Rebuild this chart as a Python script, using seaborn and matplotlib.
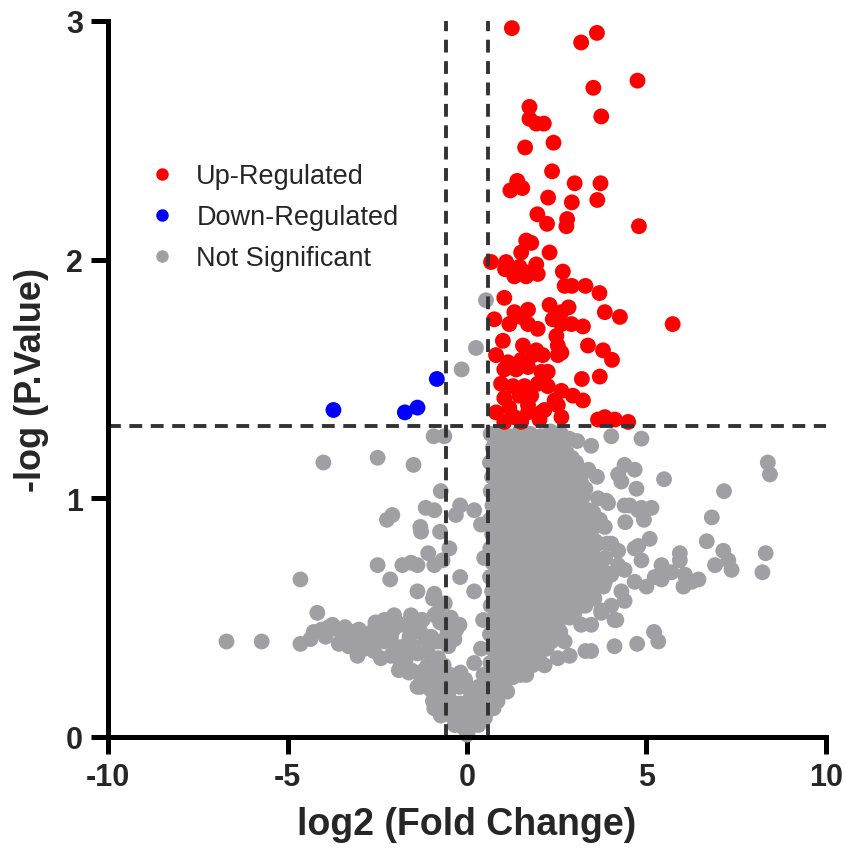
import matplotlib
matplotlib.use("Agg")
import matplotlib.pyplot as plt
from matplotlib.lines import Line2D
import seaborn as sns
import pandas as pd

# ---------------- data ----------------
up_x = [1.25, 3.62, 3.18, 4.75, 3.52, 1.74, 3.74, 1.74, 1.93, 2.14, 1.62, 2.41, 2.37,
        1.40, 1.21, 1.54, 3.00, 3.72, 2.26, 2.92, 3.63,
        1.96, 2.23, 2.79, 2.77, 4.79, 1.65, 1.79, 1.51, 2.30, 0.67, 1.09, 1.06,
        1.46, 1.93, 1.97, 1.65, 1.32, 1.79, 2.67, 2.72, 2.92, 3.30, 3.69, 1.04,
        2.30, 2.63, 2.83, 1.70, 1.32, 1.51, 0.76, 3.84, 4.26, 5.73,
        1.18, 1.70, 1.97, 2.39, 2.63, 2.91, 3.23, 1.00, 1.56, 1.93, 2.49, 2.53, 2.63,
        3.37, 3.79, 4.04, 0.81, 1.14, 1.51, 1.84, 2.11, 2.53,
        1.04, 1.37, 1.70, 2.07, 2.25, 3.20, 3.70,
        0.95, 1.28, 1.60, 1.97, 2.25, 2.63, 1.04, 1.46, 1.79, 2.44, 2.95, 3.23,
        1.18, 1.70, 2.16, 2.53, 0.81, 1.32, 1.70, 2.07, 2.63,
        3.65, 3.84, 4.12, 4.49, 1.04, 1.51, 2.02]
up_y = [2.97, 2.95, 2.91, 2.75, 2.72, 2.64, 2.60, 2.59, 2.57, 2.57, 2.47, 2.49, 2.37,
        2.33, 2.29, 2.30, 2.32, 2.32, 2.26, 2.24, 2.25,
        2.19, 2.15, 2.17, 2.14, 2.14, 2.08, 2.07, 2.03, 2.03, 1.99, 1.99, 1.96,
        1.97, 1.98, 1.94, 1.93, 1.93, 1.95, 1.95, 1.89, 1.89, 1.89, 1.86, 1.84,
        1.81, 1.78, 1.80, 1.79, 1.78, 1.76, 1.75, 1.78, 1.76, 1.73,
        1.73, 1.73, 1.71, 1.75, 1.73, 1.73, 1.72, 1.66, 1.64, 1.62, 1.68, 1.64, 1.61,
        1.64, 1.62, 1.58, 1.60, 1.57, 1.58, 1.60, 1.60, 1.60,
        1.54, 1.54, 1.55, 1.53, 1.53, 1.50, 1.51,
        1.48, 1.47, 1.47, 1.48, 1.47, 1.45, 1.42, 1.43, 1.43, 1.41, 1.43, 1.41,
        1.38, 1.39, 1.37, 1.39, 1.36, 1.34, 1.36, 1.36, 1.34,
        1.33, 1.34, 1.33, 1.32, 1.32, 1.32, 1.33]

down_x = [-0.84, -3.72, -1.73, -1.38]
down_y = [1.50, 1.37, 1.36, 1.38]

# sparse grey points (outliers around the cloud)
ns_outer_x = [-4.00, -2.49, -1.49, -0.93, -0.63, -0.73, -1.15, -0.91, -0.19, -0.31,
              -2.08, -2.23, -1.30, -1.28, -0.75, -0.49, -1.08, -2.49, -1.80, -1.56,
              -1.38, -0.91, -0.68, -0.19, -2.14, -4.64, -1.38, -4.17, -0.82, -6.70,
              -5.72, -4.64, 0.53, 0.25, -0.15, 0.20, 0.39, 0.48,
              8.38, 8.44, 7.16, 5.49, 6.82, 6.68, 7.14, 6.91, 7.37, 7.28, 8.32, 8.23,
              5.93, 6.26, 6.03, 5.21, 5.33, 4.74, 4.11, 3.30,
              4.86, 4.02, 3.46, 3.07, 4.39, 4.67, 4.21, 4.30, 4.72, 3.65, 3.93, 4.39,
              4.86, 5.14, 4.93, 4.41, 5.09, 4.77, 5.61, 5.42, 5.23, 5.00, 4.39, 4.16,
              3.74, 3.18, 2.86, 2.53, 2.16, 1.65,
              4.53, 4.77, 3.88, 3.70, 3.84, 5.93, 4.86, 5.70, 6.07, 6.45, 5.42, 4.67,
              4.39, 4.21, 4.02, 3.84, 4.30, 4.02, 3.74, 4.11, 3.65, 4.02, 4.21, 4.67,
              3.46, 3.46]
ns_outer_y = [1.15, 1.17, 1.14, 1.26, 1.26, 1.03, 0.96, 0.95, 0.97, 0.93,
              0.93, 0.91, 0.88, 0.86, 0.86, 0.79, 0.77, 0.72, 0.72, 0.73,
              0.72, 0.72, 0.74, 0.67, 0.66, 0.66, 0.61, 0.52, 0.52, 0.40,
              0.40, 0.39, 1.83, 1.63, 1.54, 0.95, 0.89, 0.75,
              1.15, 1.10, 1.03, 1.08, 0.92, 0.82, 0.78, 0.72, 0.70, 0.74, 0.77, 0.69,
              0.77, 0.65, 0.63, 0.44, 0.40, 0.39, 0.38, 0.36,
              1.25, 1.26, 1.22, 1.24, 1.14, 1.12, 1.10, 1.07, 1.04, 1.00, 0.98, 0.97,
              0.96, 0.96, 0.91, 0.90, 0.83, 0.80, 0.69, 0.72, 0.67, 0.63, 0.57, 0.49,
              0.52, 0.47, 0.34, 0.33, 0.30, 0.26,
              0.97, 0.95, 0.99, 0.91, 0.88, 0.74, 0.74, 0.69, 0.68, 0.66, 0.66, 0.65,
              0.70, 0.72, 0.68, 0.65, 0.61, 0.55, 0.53, 0.49, 0.81, 0.81, 0.78, 0.79,
              0.36, 0.47]

# dense grey core to the right of the fold-change cut-off
ns_core_x = [0.66, 0.92, 1.18, 1.47, 1.76, 2.05, 2.33, 2.62, 2.85,
             0.72, 1.03, 1.31, 1.62, 1.93, 2.21, 2.52, 2.78,
             0.64, 0.95, 1.24, 1.56, 1.84, 2.16, 2.44, 2.73, 3.04, 3.38,
             0.70, 1.01, 1.33, 1.64, 1.96, 2.27, 2.57, 2.86, 3.17, 3.62,
             0.66, 0.97, 1.27, 1.55, 1.87, 2.18, 2.48, 2.79, 3.09,
             0.71, 1.00, 1.29, 1.61, 1.90, 2.22, 2.51, 2.83, 3.12, 3.38,
             0.64, 0.96, 1.25, 1.54, 1.86, 2.15, 2.47, 2.76, 3.05, 3.34,
             0.70, 1.02, 1.31, 1.60, 1.91, 2.23, 2.52, 2.81, 3.10, 3.42,
             0.65, 0.94, 1.26, 1.57, 1.85, 2.16, 2.46, 2.74, 3.04, 3.33,
             0.71, 1.01, 1.30, 1.62, 1.92, 2.21, 2.50, 2.81, 3.11, 3.40, 3.70,
             0.64, 0.96, 1.27, 1.55, 1.86, 2.17, 2.45, 2.76, 3.06, 3.36, 3.63,
             0.70, 1.00, 1.32, 1.61, 1.90, 2.22, 2.53, 2.82, 3.12, 3.41,
             0.66, 0.95, 1.24, 1.56, 1.87, 2.15, 2.47, 2.77, 3.06, 3.30,
             0.71, 1.02, 1.30, 1.60, 1.92, 2.23, 2.54, 2.86,
             0.64, 0.97, 1.26, 1.57, 1.85, 2.16, 2.46, 2.72,
             0.70, 1.01, 1.31, 1.62, 1.93, 2.22,
             0.65, 0.96, 1.24, 1.55, 1.82,
             0.69, 0.98, 1.27, 1.50,
             0.62, 0.88, 1.12,
             0.47, 0.74,
             0.30, 0.50]
ns_core_y = [1.27, 1.28, 1.26, 1.28, 1.27, 1.26, 1.28, 1.27, 1.25,
             1.21, 1.22, 1.20, 1.21, 1.22, 1.20, 1.21, 1.19,
             1.15, 1.14, 1.16, 1.15, 1.14, 1.16, 1.15, 1.13, 1.15, 1.12,
             1.09, 1.08, 1.10, 1.09, 1.07, 1.09, 1.08, 1.10, 1.07, 1.09,
             1.03, 1.02, 1.04, 1.03, 1.02, 1.04, 1.03, 1.01, 1.03,
             0.97, 0.96, 0.98, 0.97, 0.95, 0.97, 0.96, 0.98, 0.96, 0.95,
             0.91, 0.90, 0.92, 0.91, 0.89, 0.91, 0.90, 0.92, 0.90, 0.89,
             0.85, 0.84, 0.86, 0.85, 0.83, 0.85, 0.84, 0.86, 0.84, 0.85,
             0.79, 0.78, 0.80, 0.79, 0.77, 0.79, 0.78, 0.80, 0.78, 0.79,
             0.73, 0.72, 0.74, 0.73, 0.71, 0.73, 0.72, 0.74, 0.72, 0.73, 0.71,
             0.67, 0.66, 0.68, 0.67, 0.65, 0.67, 0.66, 0.68, 0.66, 0.67, 0.69,
             0.61, 0.60, 0.62, 0.61, 0.59, 0.61, 0.60, 0.62, 0.60, 0.61,
             0.55, 0.54, 0.56, 0.55, 0.53, 0.55, 0.54, 0.56, 0.54, 0.55,
             0.49, 0.48, 0.50, 0.49, 0.47, 0.49, 0.48, 0.50,
             0.43, 0.42, 0.44, 0.43, 0.41, 0.43, 0.42, 0.40,
             0.37, 0.36, 0.38, 0.37, 0.35, 0.37,
             0.31, 0.30, 0.32, 0.31, 0.30,
             0.25, 0.24, 0.25, 0.26,
             0.19, 0.18, 0.19,
             0.13, 0.12,
             0.07, 0.08]

# in-between rows that close the gaps in the dense core
ns_fill_x = [0.78, 1.08, 1.36, 1.67, 1.98, 2.28, 2.55,
             0.82, 1.12, 1.42, 1.72, 2.03, 2.34, 2.62, 2.92,
             0.80, 1.10, 1.40, 1.71, 2.00, 2.31, 2.62, 2.94, 3.25,
             0.84, 1.16, 1.47, 1.78, 2.11, 2.42, 2.71, 3.02, 3.30,
             0.80, 1.13, 1.43, 1.74, 2.05, 2.36, 2.66, 2.97, 3.25,
             0.83, 1.14, 1.41, 1.73, 2.04, 2.35, 2.64, 2.94, 3.22, 3.52,
             0.80, 1.11, 1.43, 1.72, 2.02, 2.34, 2.63, 2.93, 3.23, 3.55,
             0.84, 1.15, 1.45, 1.76, 2.06, 2.37, 2.66, 2.96, 3.24, 3.58, 3.90,
             0.80, 1.12, 1.42, 1.71, 2.03, 2.32, 2.63, 2.94, 3.21, 3.52, 3.85,
             0.83, 1.14, 1.45, 1.75, 2.06, 2.35, 2.65, 2.95, 3.26, 3.55, 3.85,
             0.80, 1.12, 1.43, 1.74, 2.03, 2.36, 2.66, 2.96, 3.24, 3.52, 3.80,
             0.84, 1.15, 1.44, 1.75, 2.04, 2.33, 2.64, 2.92, 3.20, 3.55,
             0.81, 1.13, 1.43, 1.74, 2.05, 2.35, 2.66, 2.98,
             0.83, 1.12, 1.44, 1.73, 2.04, 2.34, 2.60,
             0.82, 1.14, 1.45, 1.75, 2.05, 2.35,
             0.80, 1.10, 1.40, 1.70, 2.00,
             0.82, 1.12, 1.40,
             0.75, 1.00,
             0.60, 0.85]
ns_fill_y = [1.24, 1.25, 1.23, 1.24, 1.25, 1.23, 1.24,
             1.18, 1.17, 1.19, 1.18, 1.17, 1.19, 1.18, 1.17,
             1.12, 1.13, 1.11, 1.12, 1.13, 1.11, 1.12, 1.13, 1.11,
             1.06, 1.05, 1.07, 1.06, 1.05, 1.07, 1.06, 1.05, 1.04,
             1.00, 0.99, 1.01, 1.00, 0.99, 1.01, 1.00, 0.99, 1.01,
             0.94, 0.93, 0.95, 0.94, 0.93, 0.95, 0.94, 0.93, 0.95, 0.94,
             0.88, 0.87, 0.89, 0.88, 0.87, 0.89, 0.88, 0.87, 0.89, 0.88,
             0.82, 0.81, 0.83, 0.82, 0.81, 0.83, 0.82, 0.81, 0.83, 0.82, 0.81,
             0.76, 0.75, 0.77, 0.76, 0.75, 0.77, 0.76, 0.75, 0.77, 0.76, 0.75,
             0.70, 0.69, 0.71, 0.70, 0.69, 0.71, 0.70, 0.69, 0.71, 0.70, 0.69,
             0.64, 0.63, 0.65, 0.64, 0.63, 0.65, 0.64, 0.63, 0.65, 0.64, 0.63,
             0.58, 0.57, 0.59, 0.58, 0.57, 0.59, 0.58, 0.57, 0.59, 0.58,
             0.52, 0.51, 0.53, 0.52, 0.51, 0.53, 0.52, 0.51,
             0.46, 0.45, 0.47, 0.46, 0.45, 0.47, 0.44,
             0.40, 0.39, 0.41, 0.40, 0.39, 0.40,
             0.34, 0.33, 0.35, 0.34, 0.33,
             0.28, 0.27, 0.28,
             0.22, 0.21,
             0.16, 0.15]

# grey points near zero and the left wing of the "V"
ns_left_x = [-0.45, -0.30, -0.52, 0.45, 0.39, 0.20, 0.20,
             -1.90, -1.62, -1.33, -1.05, -0.75, -0.46, -0.18, 0.46,
             -1.30, -1.02, -0.73, -0.47, -0.21, 0.06, 0.32, 0.55,
             -0.95, -0.70, -0.45, -0.20, 0.05, 0.30, 0.52,
             -0.68, -0.44, -0.20, 0.06, 0.29,
             -0.34, -0.10, 0.15, 0.32, 0.00, 0.02,
             -4.27, -3.75, -3.94, -3.57, -3.24, -3.01, -2.77, -2.45, -2.26, -2.12,
             -1.84, -1.56, -1.24, -0.91, -1.00, -2.59, -2.40, -2.12, -1.75, -1.84,
             -1.38, -1.56, -1.19, -1.28, -1.00, -0.82, -0.91, -0.73, -4.36, -3.05,
             -1.38, -2.95, -2.60, -3.40, -2.00, -1.60, -1.30, -1.10, -0.80, -0.70,
             -0.75, -2.31, -2.03, -1.28, -0.82, -0.21, -0.54, -0.35, -0.82, -0.91,
             -0.62, -0.95,
             -4.05, -3.85, -3.60, -3.40, -3.15, -2.90, -2.65, -2.55, -2.30, -2.05,
             -1.95, -1.70, -1.50, -1.45, -1.15, -1.10, -0.95, -0.80, -0.65, -0.65,
             -1.60, -2.85, -3.30, 0.15, -0.05]
ns_left_y = [0.50, 0.45, 0.38, 0.49, 0.37, 0.31, 0.61,
             0.28, 0.27, 0.27, 0.28, 0.27, 0.26, 0.27, 0.26,
             0.21, 0.20, 0.21, 0.20, 0.21, 0.20, 0.21, 0.20,
             0.15, 0.14, 0.15, 0.14, 0.15, 0.14, 0.16,
             0.10, 0.09, 0.10, 0.09, 0.10,
             0.05, 0.04, 0.05, 0.05, 0.01, 0.02,
             0.44, 0.47, 0.42, 0.39, 0.41, 0.45, 0.42, 0.45, 0.49, 0.42,
             0.47, 0.51, 0.49, 0.51, 0.42, 0.36, 0.33, 0.34, 0.38, 0.30,
             0.35, 0.28, 0.28, 0.23, 0.20, 0.16, 0.12, 0.09, 0.41, 0.34,
             0.21, 0.38, 0.40, 0.40, 0.38, 0.42, 0.44, 0.36, 0.33, 0.40,
             0.48, 0.49, 0.51, 0.49, 0.52, 0.47, 0.44, 0.41, 0.40, 0.60,
             0.56, 0.58,
             0.45, 0.46, 0.45, 0.46, 0.44, 0.43, 0.44, 0.48, 0.40, 0.45,
             0.35, 0.33, 0.38, 0.46, 0.41, 0.30, 0.25, 0.22, 0.30, 0.18,
             0.47, 0.37, 0.38, 0.18, 0.24]

groups = ["Up-Regulated", "Down-Regulated", "Not Significant"]
group_colors = ["#FF0000", "#0000FF", "#A0A0A4"]

fc_cut = 0.585       # log2(1.5)
p_cut = 1.301        # -log10(0.05)

# ---------------- build table ----------------
ns_x = ns_outer_x + ns_core_x + ns_fill_x + ns_left_x
ns_y = ns_outer_y + ns_core_y + ns_fill_y + ns_left_y
df = pd.concat([
    pd.DataFrame({"x": ns_x, "y": ns_y, "group": groups[2]}),
    pd.DataFrame({"x": up_x, "y": up_y, "group": groups[0]}),
    pd.DataFrame({"x": down_x, "y": down_y, "group": groups[1]}),
], ignore_index=True)

# ---------------- plot ----------------
sns.set_theme(style="white")
plt.rcParams["font.family"] = ["Liberation Sans", "DejaVu Sans"]

fig = plt.figure(figsize=(8.46, 8.62), dpi=100)
ax = fig.add_axes([0.1277, 0.1439, 0.8486, 0.8306])

pal = dict(zip(groups, group_colors))
sns.scatterplot(data=df, x="x", y="y", hue="group", hue_order=groups,
                palette=pal, s=130, linewidth=0, alpha=1, legend=False,
                ax=ax, clip_on=False, zorder=3)

dash = (0, (3.3, 2.2))
ax.axhline(p_cut, xmin=0, xmax=1, color="#333333", lw=2.8, ls=dash, zorder=4)
ax.axvline(-fc_cut, ymin=0, ymax=1, color="#333333", lw=2.8, ls=dash, zorder=4)
ax.axvline(fc_cut, ymin=0, ymax=1, color="#333333", lw=2.8, ls=dash, zorder=4)

ax.set_xlim(-10, 10)
ax.set_ylim(0, 3)
ax.set_xticks([-10, -5, 0, 5, 10])
ax.set_yticks([0, 1, 2, 3])
ax.set_xticklabels(["-10", "-5", "0", "5", "10"])
ax.set_yticklabels(["0", "1", "2", "3"])

for side in ["top", "right"]:
    ax.spines[side].set_visible(False)
for side in ["left", "bottom"]:
    ax.spines[side].set_linewidth(3.6)
    ax.spines[side].set_color("black")
    ax.spines[side].set_zorder(5)

ax.tick_params(axis="both", which="major", direction="out", length=12, width=3.6,
               color="black", labelsize=22, pad=6, bottom=True, left=True)
for lab in ax.get_xticklabels() + ax.get_yticklabels():
    lab.set_fontweight("bold")

ax.set_xlabel("log2 (Fold Change)", fontsize=27, fontweight="bold", labelpad=10)
ax.set_ylabel("-log (P.Value)", fontsize=26, fontweight="bold", labelpad=12)

handles = [Line2D([0], [0], marker="o", ls="none", markersize=9,
                  markerfacecolor=c, markeredgewidth=0) for c in group_colors]
ax.legend(handles, groups, loc="upper left", bbox_to_anchor=(0.057, 0.801),
          frameon=False, fontsize=19.5, handlelength=1.0, handletextpad=0.75,
          labelspacing=0.55, borderpad=0, borderaxespad=0)

fig.savefig("out.png", dpi=100)
